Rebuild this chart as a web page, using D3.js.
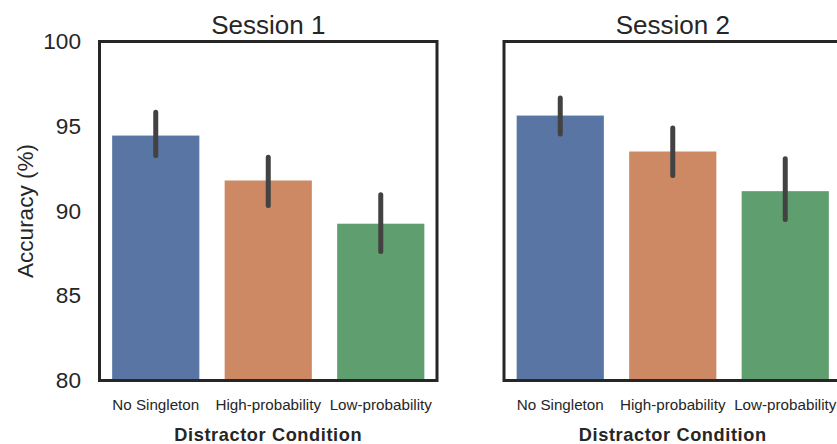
<!DOCTYPE html>
<html>
<head>
<meta charset="utf-8">
<script src="https://cdn.jsdelivr.net/npm/d3@7"></script>
<style>
  html, body { margin: 0; padding: 0; background: #fff; }
  svg { display: block; font-family: "Liberation Sans", Arial, sans-serif; }
</style>
</head>
<body>
<svg id="chart" width="837" height="444"></svg>
<script>
const categories = ["No Singleton", "High-probability", "Low-probability"];
const sessions = ["Session 1", "Session 2"];
const colors = ["#5875a4", "#cc8963", "#5f9e6e"];
const session1Mean = [94.45, 91.8, 89.25];
const session1Low = [93.27, 90.32, 87.61];
const session1High = [95.83, 93.17, 90.96];
const session2Mean = [95.63, 93.51, 91.17];
const session2Low = [94.55, 92.09, 89.5];
const session2High = [96.66, 94.89, 93.08];
const yTicks = [80, 85, 90, 95, 100];

const svg = d3.select("#chart");
const plotTop = 41.5, plotBottom = 380.5;
const y = d3.scaleLinear().domain([80, 100]).range([plotBottom, plotTop]);

const panels = [
  { title: sessions[0], x0: 99.5, x1: 437, mean: session1Mean, lo: session1Low, hi: session1High, yAxis: true },
  { title: sessions[1], x0: 504, x1: 841.5, mean: session2Mean, lo: session2Low, hi: session2High, yAxis: false }
];

panels.forEach(p => {
  const x = d3.scaleBand().domain(categories).range([p.x0, p.x1])
    .paddingInner(0.225).paddingOuter(0.1125);
  const g = svg.append("g");

  g.selectAll("rect.bar").data(categories).join("rect")
    .attr("class", "bar")
    .attr("x", d => x(d))
    .attr("width", x.bandwidth())
    .attr("y", (d, i) => y(p.mean[i]))
    .attr("height", (d, i) => y(80) - y(p.mean[i]))
    .attr("fill", (d, i) => colors[i]);

  g.selectAll("line.err").data(categories).join("line")
    .attr("class", "err")
    .attr("x1", d => x(d) + x.bandwidth() / 2)
    .attr("x2", d => x(d) + x.bandwidth() / 2)
    .attr("y1", (d, i) => y(p.lo[i]))
    .attr("y2", (d, i) => y(p.hi[i]))
    .attr("stroke", "#424242")
    .attr("stroke-width", 5)
    .attr("stroke-linecap", "round");

  g.append("rect")
    .attr("x", p.x0).attr("y", plotTop)
    .attr("width", p.x1 - p.x0).attr("height", plotBottom - plotTop)
    .attr("fill", "none").attr("stroke", "#262626").attr("stroke-width", 3);

  g.append("text")
    .attr("x", (p.x0 + p.x1) / 2).attr("y", 34)
    .attr("text-anchor", "middle")
    .attr("font-size", 26).attr("fill", "#262626")
    .text(p.title);

  const xAxis = d3.axisBottom(x).tickSize(0).tickPadding(0);
  const ax = g.append("g").attr("transform", `translate(0,${plotBottom})`).call(xAxis);
  ax.select(".domain").remove();
  ax.selectAll("text")
    .attr("y", 29).attr("dy", 0)
    .attr("font-size", 15.2).attr("fill", "#262626")
    .attr("font-family", "Liberation Sans, Arial, sans-serif");

  g.append("text")
    .attr("x", (p.x0 + p.x1) / 2).attr("y", 441)
    .attr("text-anchor", "middle")
    .attr("font-size", 18.2).attr("font-weight", "bold").attr("fill", "#262626")
    .attr("letter-spacing", 0.6)
    .text("Distractor Condition");

  if (p.yAxis) {
    const yAxis = d3.axisLeft(y).tickValues(yTicks).tickSize(0).tickPadding(0);
    const ay = g.append("g").attr("transform", `translate(81,0)`).call(yAxis);
    ay.select(".domain").remove();
    ay.selectAll("text")
      .attr("font-size", 22.6).attr("fill", "#262626")
      .attr("font-family", "Liberation Sans, Arial, sans-serif");
    g.append("text")
      .attr("transform", `translate(33,${(plotTop + plotBottom) / 2}) rotate(-90)`)
      .attr("text-anchor", "middle")
      .attr("font-size", 22.5).attr("fill", "#262626")
      .text("Accuracy (%)");
  }
});
</script>
</body>
</html>
